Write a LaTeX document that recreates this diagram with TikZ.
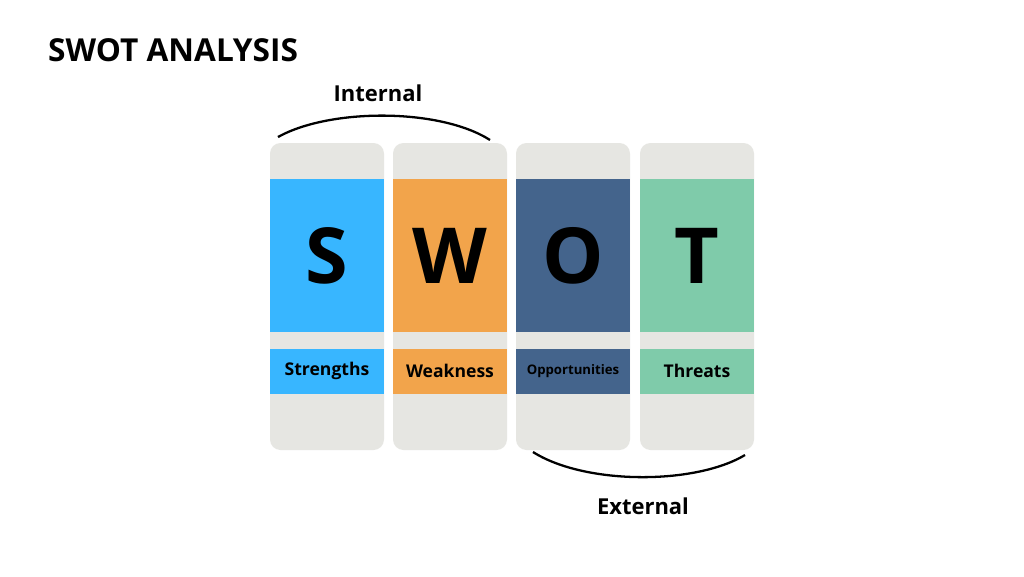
\documentclass[tikz,border=0pt]{standalone}
\usepackage{fontspec}
\setmainfont{Open Sans}
\usetikzlibrary{positioning}
\definecolor{sblue}{HTML}{38B6FF}
\definecolor{worange}{HTML}{F2A44B}
\definecolor{onavy}{HTML}{44648C}
\definecolor{tgreen}{HTML}{7FCBAA}
\definecolor{panel}{HTML}{E6E6E2}
\begin{document}
\begin{tikzpicture}[x=0.02cm,y=-0.02cm,
    column/.style={fill=panel,rounded corners=6pt},
    bigletter/.style={font=\fontsize{44}{44}\selectfont\bfseries},
    tag/.style={font=\fontsize{10}{12}\selectfont\bfseries},
    side/.style={font=\fontsize{12.5}{14}\selectfont\bfseries}]
  \useasboundingbox[fill=white] (0,0) rectangle (1024,576);
  \node[anchor=west,font=\fontsize{18}{20}\selectfont\bfseries] (title) at (42,50) {SWOT ANALYSIS};
  % four columns
  \foreach \x/\c/\L/\T/\n in {270/sblue/S/Strengths/s,393/worange/W/Weakness/w,516/onavy/O/{\fontsize{7.5}{9}\selectfont Opportunities}/o,640/tgreen/T/Threats/t}{
    \fill[column] (\x,143) rectangle +(114,307);
    \fill[\c] (\x,179) rectangle +(114,153);
    \fill[\c] (\x,349) rectangle +(114,45);
    \node[bigletter] (\n) at (\x+57,256) {\L};
    \node[tag] (\n lbl) at (\x+57,371) {\T};
  }
  % braces
  \coordinate (in1) at (278,137);
  \coordinate (in2) at (490,140);
  \draw[line width=1.3pt] (in1) .. controls (330,108) and (440,108) .. (in2);
  \node[side] (internal) at (378,93) {Internal};
  \coordinate (ex1) at (533,452);
  \coordinate (ex2) at (745,455);
  \draw[line width=1.3pt] (ex1) .. controls (585,485) and (695,485) .. (ex2);
  \node[side] (external) at (643,506) {External};
\end{tikzpicture}
\end{document}
